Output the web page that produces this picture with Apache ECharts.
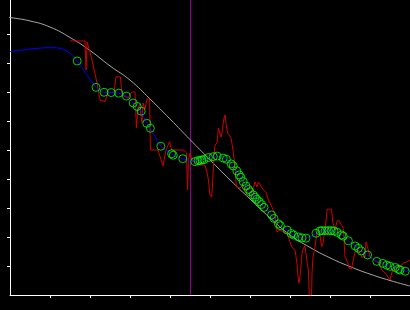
<!DOCTYPE html>
<html><head><meta charset="utf-8">
<script src="https://cdn.jsdelivr.net/npm/echarts@6/dist/echarts.min.js"></script>
<style>html,body{margin:0;padding:0;background:#000;}#c{width:410px;height:310px;}</style>
</head><body><div id="c"></div>
<script>
const xTicks = [1,2,3,4,5,6,7,8,9];
const yTicks = [1,2,3,4,5,6,7,8,9];
const vlineX = 4.5125;

const grayX = [-0.25,0,0.5,1,1.5,2,2.5,3,3.5,4,4.5,5,5.5,6,6.5,7,7.5,8,8.5,9,9.5,10];
const grayY = [9.62,9.57,9.45,9.24,8.88,8.43,7.90,7.41,6.76,6.07,5.36,4.66,3.97,3.31,2.66,2.07,1.64,1.28,0.98,0.72,0.50,0.31];

const redX = [1.5,1.875,1.9,1.93,2.05,2.17,2.25,2.375,2.45,2.6,
2.65,2.76,2.8,2.95,3.04,3.125,3.14,3.16,3.19,3.24,
3.29,3.3,3.325,3.375,3.425,3.49,3.5,3.51,3.7,3.825,
3.9,3.99,4.04,4.34,4.41,4.44,4.46,4.5,4.575,4.675,
4.75,4.875,4.925,4.96,5.0,5.04,5.06,5.09,5.125,5.175,
5.21,5.25,5.275,5.3,5.34,5.375,5.4,5.44,5.49,5.525,
5.575,5.625,5.66,5.75,5.825,5.95,6.025,6.125,6.175,6.21,
6.3,6.41,6.46,6.55,6.625,6.675,6.75,6.83,6.92,6.96,
7.0,7.04,7.125,7.17,7.21,7.23,7.27,7.31,7.375,7.42,
7.46,7.48,7.54,7.55,7.575,7.625,7.67,7.71,7.75,7.79,
7.83,7.875,7.92,7.93,8.04,8.07,8.125,8.17,8.21,8.29,
8.33,8.375,8.44,8.475,8.54,8.58,8.625,8.71,8.79,8.875,
8.9,8.94,8.96,9.0,9.17,9.25,9.29,9.375,9.45,9.5,
9.55,9.67,9.75,9.83,9.92,10.0];
const redY = [8.76,8.76,7.76,8.72,8.10,7.34,6.72,6.67,6.97,7.0,
7.52,7.52,6.90,6.79,7.0,7.0,6.55,5.76,6.28,6.59,
6.62,5.93,6.62,6.41,6.76,6.76,5.86,5.0,5.0,4.45,
5.0,5.29,5.0,5.0,4.9,3.62,4.66,4.9,4.62,4.55,
4.48,4.48,4.24,3.97,3.45,3.38,3.72,4.55,5.17,5.24,
5.76,5.76,5.45,5.59,6.03,6.21,5.93,5.59,5.59,5.41,
5.0,4.41,3.72,3.69,3.79,3.52,3.45,3.90,3.72,3.90,
3.69,3.52,3.28,3.03,2.76,2.17,2.24,2.18,2.14,2.0,
1.97,1.66,1.55,1.14,0.52,0.41,0.93,1.55,1.69,1.21,
0.86,0.0,0.0,0.76,1.31,1.66,2.14,2.24,2.07,1.66,
1.83,2.24,2.83,2.96,2.96,2.52,2.24,2.52,2.59,2.41,
2.31,1.34,1.14,0.93,0.90,1.21,1.48,1.55,1.31,1.31,
1.83,1.83,1.55,1.31,1.14,1.10,0.86,0.76,0.62,0.52,
0.79,0.93,0.97,1.10,1.14,1.19];

const blueLeadX = [0,0.5,1.0,1.25,1.4,1.55];
const blueLeadY = [8.39,8.48,8.53,8.51,8.43,8.28];
const blueTailX = [10.0];
const blueTailY = [0.88];

const markerX = [1.68,2.15,2.35,2.53,2.72,2.91,3.08,3.18,3.28,3.42,
3.51,3.77,4.04,4.08,4.32,4.62,4.70,4.75,4.80,4.85,
4.96,5.08,5.18,5.33,5.41,5.53,5.58,5.67,5.73,5.77,
5.83,5.90,5.96,6.00,6.08,6.13,6.17,6.23,6.29,6.35,
6.54,6.60,6.71,6.76,6.93,7.03,7.09,7.21,7.30,7.40,
7.65,7.75,7.80,7.88,7.96,8.03,8.10,8.18,8.29,8.33,
8.46,8.63,8.71,8.78,8.94,9.17,9.32,9.42,9.50,9.63,
9.71,9.75,9.88];
const markerY = [8.07,7.16,6.99,6.98,6.96,6.86,6.62,6.50,6.34,5.92,
5.75,5.13,4.87,4.82,4.70,4.60,4.63,4.64,4.66,4.67,
4.74,4.77,4.79,4.72,4.68,4.52,4.45,4.28,4.14,4.06,
3.91,3.76,3.64,3.56,3.45,3.37,3.30,3.22,3.12,3.02,
2.76,2.64,2.45,2.39,2.24,2.12,2.07,2.00,1.97,1.96,
2.13,2.21,2.22,2.22,2.22,2.22,2.21,2.16,2.07,2.03,
1.87,1.69,1.61,1.52,1.38,1.16,1.09,1.03,0.99,0.95,
0.89,0.86,0.82];

const zip = (a, b) => a.map((v, i) => [v, b[i]]);
const yMax = 10.172;

const chart = echarts.init(document.getElementById('c'), null, {renderer: 'canvas'});
chart.setOption({
  backgroundColor: '#000000',
  animation: false,
  grid: {left: 10, right: 0, top: 0, bottom: 15, containLabel: false},
  xAxis: {
    type: 'value', min: 0, max: 10, interval: 1,
    axisLine: {show: true, lineStyle: {color: '#ffffff', width: 1}},
    axisTick: {show: true, length: 3, customValues: xTicks, lineStyle: {color: '#ffffff', width: 1}},
    axisLabel: {show: false},
    splitLine: {show: false}
  },
  yAxis: {
    type: 'value', min: 0, max: yMax, interval: 1,
    axisLine: {show: true, lineStyle: {color: '#ffffff', width: 1}},
    axisTick: {show: true, length: 3, customValues: yTicks, lineStyle: {color: '#ffffff', width: 1}},
    axisLabel: {show: false},
    splitLine: {show: false}
  },
  series: [
    {
      type: 'line', data: [[vlineX, 0], [vlineX, yMax]], showSymbol: false, symbol: 'none',
      lineStyle: {color: '#8a008a', width: 1}, z: 1
    },
    {
      type: 'line', data: zip(grayX, grayY), smooth: true, symbol: 'none', clip: false,
      lineStyle: {color: '#a8a8a8', width: 1}, z: 2
    },
    {
      type: 'line', data: zip(redX, redY), symbol: 'none',
      lineStyle: {color: '#d00000', width: 1}, z: 3
    },
    {
      type: 'line',
      data: zip(blueLeadX, blueLeadY).concat(zip(markerX, markerY), zip(blueTailX, blueTailY)),
      smooth: 0.3, symbol: 'none',
      lineStyle: {color: '#0000ff', width: 1}, z: 4
    },
    {
      type: 'scatter', data: zip(markerX, markerY), symbol: 'circle', symbolSize: 8,
      itemStyle: {color: 'rgba(0,0,0,0)', borderColor: '#00ff00', borderWidth: 1}, z: 5
    }
  ]
});
</script></body></html>
